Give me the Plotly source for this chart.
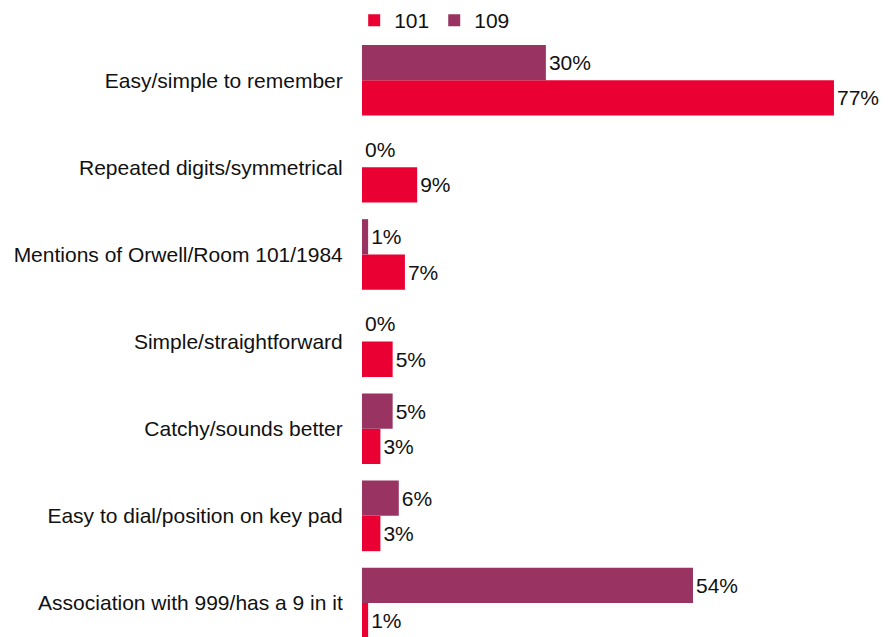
import plotly.graph_objects as go

categories = [
    "Easy/simple to remember",
    "Repeated digits/symmetrical",
    "Mentions of Orwell/Room 101/1984",
    "Simple/straightforward",
    "Catchy/sounds better",
    "Easy to dial/position on key pad",
    "Association with 999/has a 9 in it",
]
values_101 = [77, 9, 7, 5, 3, 3, 1]
values_109 = [30, 0, 1, 0, 5, 6, 54]
series_names = ["101", "109"]
colors = ["#EA0032", "#993361"]

FONT = "Liberation Sans, Arial, sans-serif"

fig = go.Figure()
for name, vals, col in zip(series_names, [values_101, values_109], colors):
    fig.add_trace(go.Bar(
        y=categories, x=vals, name=name, orientation="h",
        marker=dict(color=col, line=dict(width=0)),
        text=[f"{v}%" for v in vals], textposition="outside",
        textfont=dict(size=21, color="#111111", family=FONT),
        cliponaxis=False, constraintext="none",
    ))

fig.update_layout(
    width=890, height=637,
    margin=dict(l=362, r=7, t=0, b=0),
    barmode="group", bargap=0.19, bargroupgap=0,
    plot_bgcolor="white", paper_bgcolor="white",
    font=dict(family=FONT, size=21, color="#111111"),
    showlegend=True,
    legend=dict(orientation="h", x=-0.015, xanchor="left", y=1.0, yanchor="top",
                font=dict(size=21), traceorder="normal", bgcolor="rgba(0,0,0,0)"),
)
fig.update_xaxes(range=[0, 85], showgrid=False, showticklabels=False, zeroline=False,
                 showline=False, ticks="")
fig.update_yaxes(categoryorder="array", categoryarray=categories[::-1],
                 range=[-0.39, 6.92], showgrid=False, showline=False, ticks="outside",
                 ticklen=14, tickcolor="rgba(0,0,0,0)", zeroline=False)

fig.write_html("out.html")
